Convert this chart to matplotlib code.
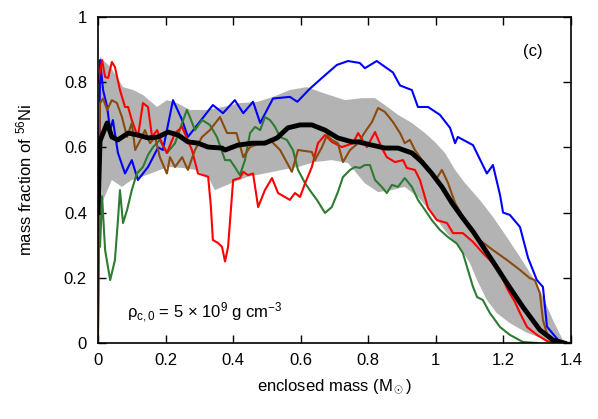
import numpy as np
import matplotlib
matplotlib.use('Agg')
import matplotlib.pyplot as plt

plt.rcParams['font.family'] = ['Liberation Sans', 'DejaVu Sans']
plt.rcParams['mathtext.fontset'] = 'custom'
plt.rcParams['mathtext.rm'] = 'Liberation Sans'
plt.rcParams['mathtext.it'] = 'Liberation Sans'

# gray band (spread of models)
band_up_x = [0.0, 0.006, 0.036, 0.056, 0.074, 0.104, 0.133, 0.175, 0.204, 0.234, 0.272, 0.322,
             0.37, 0.42, 0.47, 0.518, 0.568, 0.618, 0.666, 0.731, 0.781, 0.82, 0.849, 0.888,
             0.929, 0.968, 0.997, 1.027, 1.057, 1.086, 1.13, 1.169, 1.21, 1.249, 1.287, 1.317,
             1.347, 1.376, 1.39]
band_up_y = [0.6, 0.877, 0.847, 0.816, 0.785, 0.776, 0.761, 0.724, 0.745, 0.736, 0.715, 0.715,
             0.724, 0.736, 0.739, 0.755, 0.776, 0.785, 0.767, 0.745, 0.751, 0.751, 0.73, 0.70,
             0.675, 0.644, 0.617, 0.583, 0.531, 0.491, 0.439, 0.387, 0.325, 0.264, 0.202, 0.141,
             0.07, 0.009, 0.0]
band_lo_x = [0.0, 0.012, 0.041, 0.071, 0.10, 0.13, 0.169, 0.207, 0.249, 0.287, 0.326, 0.346,
             0.397, 0.444, 0.494, 0.545, 0.592, 0.642, 0.692, 0.74, 0.79, 0.829, 0.87, 0.908,
             0.947, 0.988, 1.033, 1.071, 1.101, 1.122, 1.151, 1.18, 1.219, 1.27, 1.329, 1.38]
band_lo_y = [0.3, 0.43, 0.50, 0.479, 0.50, 0.51, 0.525, 0.54, 0.537, 0.531, 0.51, 0.469,
             0.491, 0.51, 0.52, 0.531, 0.54, 0.555, 0.561, 0.552, 0.49, 0.463, 0.469, 0.479,
             0.448, 0.399, 0.337, 0.294, 0.245, 0.193, 0.132, 0.092, 0.061, 0.031, 0.009, 0.0]

# mean
mean_x = [0.0, 0.006, 0.027, 0.041, 0.059, 0.089, 0.118, 0.148, 0.178, 0.207, 0.237, 0.266,
          0.296, 0.326, 0.367, 0.376, 0.414, 0.456, 0.494, 0.53, 0.562, 0.598, 0.633, 0.672,
          0.71, 0.752, 0.77, 0.811, 0.849, 0.888, 0.929, 0.959, 0.988, 1.018, 1.048, 1.077,
          1.11, 1.16, 1.21, 1.258, 1.308, 1.347, 1.38]
mean_y = [0.4, 0.62, 0.675, 0.632, 0.623, 0.644, 0.638, 0.629, 0.632, 0.647, 0.638, 0.617,
          0.613, 0.601, 0.598, 0.592, 0.607, 0.613, 0.613, 0.629, 0.66, 0.669, 0.669, 0.653,
          0.629, 0.617, 0.617, 0.607, 0.598, 0.598, 0.583, 0.555, 0.52, 0.479, 0.429, 0.387,
          0.342, 0.264, 0.184, 0.11, 0.04, 0.009, 0.0]

blue_x = [0.0, 0.006, 0.015, 0.027, 0.036, 0.044, 0.059, 0.08, 0.10, 0.118, 0.148, 0.178, 0.192,
          0.222, 0.249, 0.266, 0.34, 0.37, 0.405, 0.43, 0.459, 0.48, 0.518, 0.568, 0.59, 0.627,
          0.666, 0.707, 0.74, 0.775, 0.79, 0.825, 0.873, 0.894, 0.929, 0.947, 0.977, 1.012,
          1.042, 1.057, 1.065, 1.11, 1.151, 1.169, 1.19, 1.199, 1.219, 1.249, 1.273, 1.299,
          1.317, 1.329, 1.367, 1.4]
blue_y = [0.05, 0.868, 0.776, 0.724, 0.653, 0.684, 0.583, 0.52, 0.561, 0.50, 0.54, 0.60, 0.592,
          0.745, 0.684, 0.632, 0.73, 0.705, 0.745, 0.705, 0.74, 0.675, 0.75, 0.755, 0.74, 0.78,
          0.816, 0.853, 0.865, 0.859, 0.843, 0.865, 0.83, 0.79, 0.776, 0.724, 0.724, 0.70,
          0.66, 0.613, 0.632, 0.607, 0.52, 0.546, 0.454, 0.40, 0.393, 0.356, 0.261, 0.193,
          0.172, 0.05, 0.003, 0.0]

red_x = [0.0, 0.012, 0.021, 0.03, 0.041, 0.05, 0.065, 0.08, 0.089, 0.10, 0.118, 0.133, 0.148,
         0.16, 0.175, 0.189, 0.204, 0.228, 0.249, 0.278, 0.296, 0.326, 0.334, 0.34, 0.355,
         0.367, 0.376, 0.385, 0.40, 0.42, 0.43, 0.444, 0.459, 0.474, 0.494, 0.515, 0.533,
         0.553, 0.568, 0.583, 0.598, 0.613, 0.633, 0.651, 0.672, 0.692, 0.722, 0.755, 0.77,
         0.796, 0.82, 0.84, 0.855, 0.879, 0.903, 0.914, 0.938, 0.953, 0.977, 1.003, 1.033,
         1.051, 1.08, 1.11, 1.139, 1.169, 1.19, 1.213, 1.234, 1.249, 1.27, 1.299, 1.329, 1.36]
red_y = [0.8, 0.868, 0.816, 0.813, 0.862, 0.847, 0.776, 0.724, 0.724, 0.684, 0.632, 0.736, 0.724,
         0.632, 0.653, 0.613, 0.583, 0.644, 0.663, 0.592, 0.52, 0.51, 0.42, 0.316, 0.307,
         0.295, 0.25, 0.295, 0.50, 0.506, 0.525, 0.515, 0.52, 0.417, 0.469, 0.506, 0.46,
         0.448, 0.439, 0.46, 0.448, 0.49, 0.54, 0.613, 0.638, 0.617, 0.601, 0.613, 0.644,
         0.601, 0.647, 0.598, 0.57, 0.555, 0.561, 0.537, 0.531, 0.50, 0.414, 0.377, 0.368,
         0.337, 0.337, 0.31, 0.276, 0.245, 0.215, 0.163, 0.126, 0.092, 0.049, 0.025, 0.006, 0.0]

brown_x = [0.0, 0.006, 0.015, 0.027, 0.041, 0.056, 0.071, 0.086, 0.10, 0.11, 0.13, 0.139, 0.154,
           0.169, 0.183, 0.204, 0.213, 0.228, 0.249, 0.266, 0.287, 0.308, 0.331, 0.361, 0.382,
           0.41, 0.43, 0.45, 0.48, 0.509, 0.539, 0.574, 0.592, 0.633, 0.642, 0.663, 0.678,
           0.692, 0.71, 0.725, 0.746, 0.77, 0.79, 0.811, 0.829, 0.849, 0.873, 0.894, 0.908,
           0.923, 0.938, 0.959, 0.988, 1.003, 1.018, 1.036, 1.057, 1.086, 1.13, 1.169, 1.21,
           1.249, 1.278, 1.293, 1.308, 1.317, 1.332, 1.36]
brown_y = [0.0, 0.736, 0.75, 0.715, 0.745, 0.736, 0.693, 0.632, 0.675, 0.592, 0.632, 0.653, 0.613,
           0.632, 0.57, 0.52, 0.57, 0.54, 0.57, 0.531, 0.592, 0.632, 0.653, 0.693, 0.644,
           0.644, 0.57, 0.601, 0.613, 0.623, 0.592, 0.525, 0.592, 0.586, 0.561, 0.601, 0.638,
           0.623, 0.613, 0.555, 0.592, 0.613, 0.647, 0.678, 0.721, 0.709, 0.678, 0.644, 0.613,
           0.623, 0.592, 0.561, 0.52, 0.506, 0.531, 0.491, 0.429, 0.377, 0.316, 0.285, 0.255,
           0.224, 0.199, 0.193, 0.153, 0.07, 0.018, 0.0]

green_x = [0.0, 0.006, 0.012, 0.021, 0.036, 0.05, 0.059, 0.065, 0.074, 0.086, 0.10, 0.115, 0.133,
           0.148, 0.163, 0.183, 0.204, 0.228, 0.249, 0.263, 0.272, 0.287, 0.308, 0.331, 0.352,
           0.376, 0.391, 0.405, 0.42, 0.435, 0.45, 0.465, 0.48, 0.494, 0.509, 0.524, 0.539,
           0.559, 0.577, 0.592, 0.613, 0.633, 0.648, 0.672, 0.692, 0.71, 0.725, 0.746, 0.761,
           0.775, 0.79, 0.805, 0.82, 0.84, 0.855, 0.87, 0.888, 0.908, 0.929, 0.947, 0.968,
           0.988, 1.012, 1.036, 1.062, 1.08, 1.095, 1.11, 1.122, 1.139, 1.16, 1.19, 1.219,
           1.258, 1.3]
green_y = [0.3, 0.295, 0.45, 0.285, 0.193, 0.254, 0.377, 0.469, 0.368, 0.408, 0.469, 0.52, 0.54,
           0.577, 0.601, 0.623, 0.583, 0.613, 0.675, 0.715, 0.693, 0.653, 0.684, 0.669, 0.632,
           0.561, 0.561, 0.54, 0.515, 0.561, 0.644, 0.663, 0.653, 0.693, 0.684, 0.663, 0.632,
           0.623, 0.592, 0.531, 0.49, 0.46, 0.439, 0.399, 0.417, 0.463, 0.509, 0.531, 0.54,
           0.537, 0.546, 0.546, 0.50, 0.479, 0.46, 0.485, 0.479, 0.506, 0.479, 0.439, 0.408,
           0.377, 0.347, 0.325, 0.305, 0.276, 0.224, 0.172, 0.141, 0.132, 0.092, 0.049, 0.025,
           0.003, 0.0]

fig = plt.figure(figsize=(5.98, 4.19), dpi=100)
ax = fig.add_axes([0.1639, 0.1814, 0.7909, 0.778])

ax.fill(np.concatenate([band_up_x, band_lo_x[::-1]]),
        np.concatenate([band_up_y, band_lo_y[::-1]]),
        color='#b3b3b3', lw=0)

ax.plot(blue_x, blue_y, color='#0000ff', lw=1.5)
ax.plot(green_x, green_y, color='#2e7b32', lw=1.5)
ax.plot(red_x, red_y, color='#ff0000', lw=1.5)
ax.plot(brown_x, brown_y, color='#8b4a10', lw=1.5)
ax.plot(mean_x, mean_y, color='black', lw=3.5)

ax.set_xlim(0, 1.4)
ax.set_ylim(0, 1)
ax.set_xticks([0, 0.2, 0.4, 0.6, 0.8, 1.0, 1.2, 1.4])
ax.set_xticklabels(['0', '0.2', '0.4', '0.6', '0.8', '1', '1.2', '1.4'])
ax.set_yticks([0, 0.2, 0.4, 0.6, 0.8, 1.0])
ax.set_yticklabels(['0', '0.2', '0.4', '0.6', '0.8', '1'])
ax.tick_params(direction='in', top=True, right=True, length=6, width=1, labelsize=12)
ax.tick_params(axis='x', pad=7)
ax.tick_params(axis='y', pad=8)
for s in ax.spines.values():
    s.set_linewidth(1.2)

ax.set_xlabel(r'enclosed mass (M$_\odot$)', fontsize=12, labelpad=7)
ax.set_ylabel(r'mass fraction of $^{56}$Ni', fontsize=12, labelpad=21)

ax.text(1.287, 0.893, '(c)', fontsize=12, ha='center', va='center')
ax.text(0.086, 0.077, r'$\rho_{\rm c,0}$ = 5 $\times$ 10$^9$ g cm$^{-3}$', fontsize=12)

fig.savefig('out.png', dpi=100)
